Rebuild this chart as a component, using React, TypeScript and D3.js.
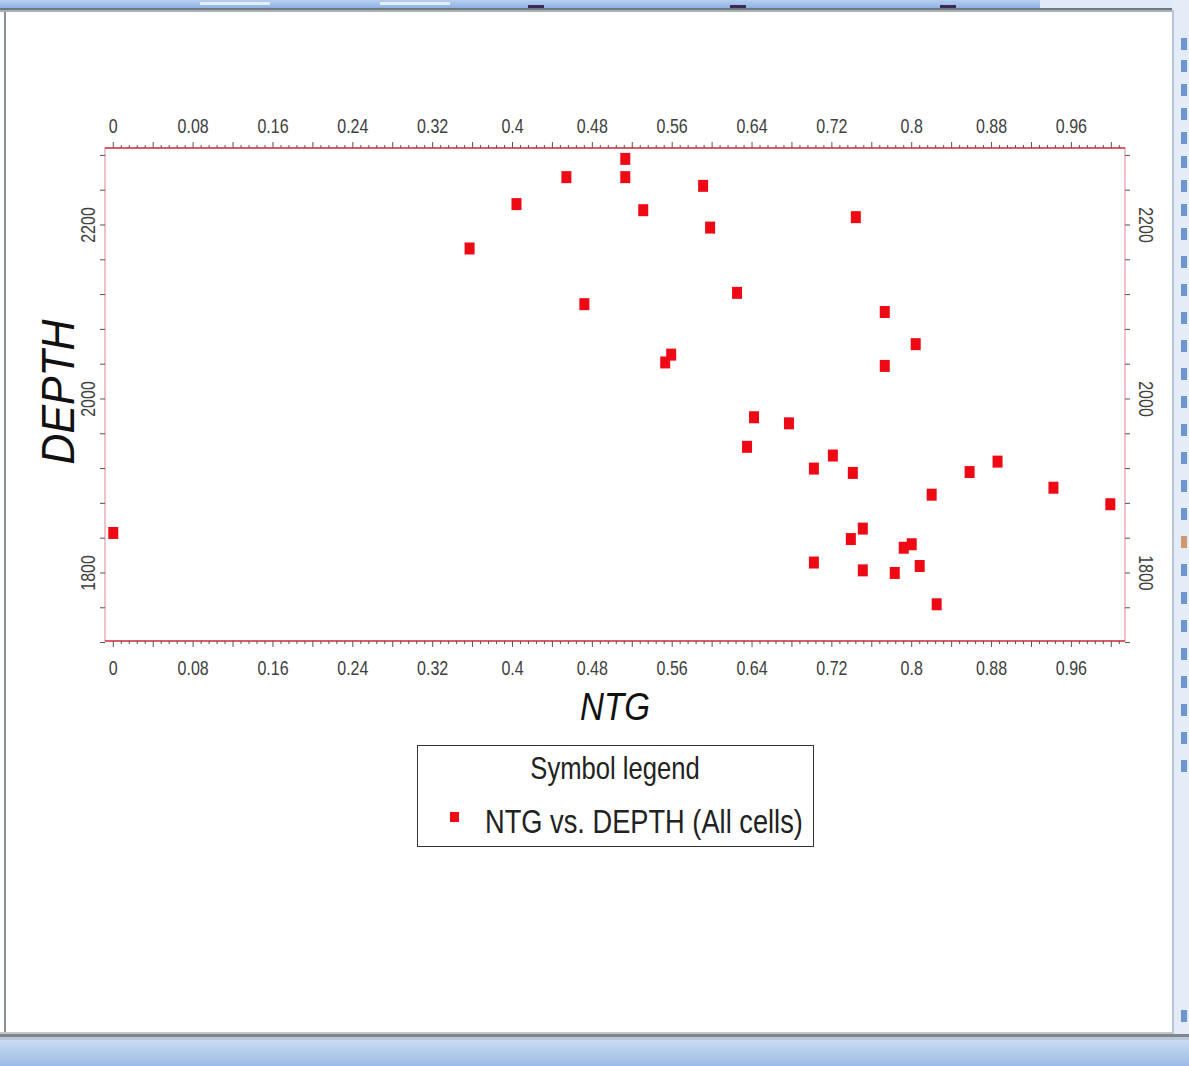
import React from "react";
import * as d3 from "d3";

// Data: NTG vs DEPTH (All cells)
const ntgValues = [0.0, 0.357, 0.404, 0.454, 0.472, 0.513, 0.513, 0.531, 0.553, 0.559, 0.591, 0.598, 0.625, 0.635, 0.642, 0.677, 0.702, 0.702, 0.721, 0.741, 0.744, 0.739, 0.751, 0.751, 0.773, 0.773, 0.783, 0.792, 0.8, 0.804, 0.808, 0.82, 0.825, 0.858, 0.886, 0.942, 0.999];
const depthValues = [1846, 2173, 2224, 2255, 2109, 2276, 2255, 2217, 2042, 2051, 2245, 2197, 2122, 1945, 1979, 1972, 1920, 1812, 1935, 1915, 2209, 1839, 1851, 1803, 2100, 2038, 1800, 1829, 1833, 2063, 1808, 1890, 1764, 1916, 1928, 1898, 1879];
const xTickLabels = ["0", "0.08", "0.16", "0.24", "0.32", "0.4", "0.48", "0.56", "0.64", "0.72", "0.8", "0.88", "0.96"];
const yTickLabels = ["1800", "2000", "2200"];
const xTitle = "NTG";
const yTitle = "DEPTH";
const legendTitle = "Symbol legend";
const legendLabel = "NTG vs. DEPTH (All cells)";

const W = 1189;
const H = 1066;
const frame = { left: 105, right: 1125, top: 148, bottom: 641 };

export default function App() {
  const x = d3.scaleLinear().domain([-0.0083, 1.0137]).range([frame.left, frame.right]);
  const y = d3.scaleLinear().domain([1721.8, 2288.5]).range([frame.bottom, frame.top]);

  const xMajor = d3.range(0, 1.0001, 0.04);
  const xMinor = d3.range(0, 1.012, 0.008).filter((v) => Math.abs(v / 0.04 - Math.round(v / 0.04)) > 1e-6);
  const yTicks = d3.range(1720, 2290, 40);

  const axisColor = "#d23a48";
  const tickColor = "#555";
  const labelColor = "#404040";
  const condensed = 0.8;

  const data = ntgValues.map((v, i) => ({ ntg: v, depth: depthValues[i] }));

  return (
    <svg width={W} height={H} style={{ position: "absolute", left: 0, top: 0, background: "#fff" }}>
      <defs>
        <linearGradient id="bottomBar" x1="0" y1="0" x2="0" y2="1">
          <stop offset="0" stopColor="#c9dcf3" />
          <stop offset="1" stopColor="#9dbbe6" />
        </linearGradient>
        <linearGradient id="topBar" x1="0" y1="0" x2="0" y2="1">
          <stop offset="0" stopColor="#b7cff0" />
          <stop offset="1" stopColor="#8fb1e3" />
        </linearGradient>
      </defs>
      {/* window chrome */}
      <rect x={0} y={0} width={1040} height={8} fill="url(#topBar)" />
      <rect x={1040} y={0} width={149} height={8} fill="#dfe9f7" />
      <rect x={200} y={2} width={70} height={3} fill="#e4eefb" />
      <rect x={380} y={2} width={70} height={3} fill="#e4eefb" />
      <rect x={528} y={5} width={16} height={3} fill="#3a2a55" />
      <rect x={730} y={5} width={16} height={3} fill="#3a2a55" />
      <rect x={940} y={5} width={16} height={3} fill="#3a2a55" />
      <rect x={0} y={8} width={1172} height={2} fill="#6f7780" />
      <rect x={0} y={10} width={1172} height={2} fill="#a9b0b8" />
      <rect x={4} y={12} width={2} height={1022} fill="#8a9098" />
      <rect x={1172} y={0} width={17} height={1040} fill="#e4ecf7" />
      <rect x={1172} y={10} width={2} height={1030} fill="#b8c4d4" />
      {[38, 60, 84, 108, 132, 156, 180, 204, 228, 256, 284, 312, 340, 368, 396, 424, 452, 480, 508, 536, 564, 592, 620, 648, 676, 704, 732, 760, 1010].map((yy, i) => (
        <rect key={i} x={1181} y={yy} width={6} height={12} fill={i === 19 ? "#c98a5a" : "#5a86c8"} opacity={0.85} />
      ))}
      <rect x={0} y={1032} width={1172} height={2} fill="#c8c8c0" />
      <rect x={0} y={1034} width={1189} height={3} fill="#7c8590" />
      <rect x={0} y={1037} width={1189} height={3} fill="#b9c6d6" />
      <rect x={0} y={1040} width={1189} height={26} fill="url(#bottomBar)" />

      {/* frame */}
      <rect x={frame.left} y={frame.top} width={frame.right - frame.left} height={frame.bottom - frame.top} fill="#fff" stroke="#e39aa2" strokeWidth={1.2} />
      <line x1={frame.left} x2={frame.right} y1={frame.top} y2={frame.top} stroke={axisColor} strokeWidth={1.5} />
      <line x1={frame.left} x2={frame.right} y1={frame.bottom} y2={frame.bottom} stroke={axisColor} strokeWidth={1.5} />

      {/* x ticks */}
      {xMajor.map((v, i) => (
        <g key={"xm" + i}>
          <line x1={x(v)} x2={x(v)} y1={frame.top} y2={frame.top - 6} stroke={tickColor} strokeWidth={1} />
          <line x1={x(v)} x2={x(v)} y1={frame.bottom} y2={frame.bottom + 6} stroke={tickColor} strokeWidth={1} />
        </g>
      ))}
      {xMinor.map((v, i) => (
        <g key={"xn" + i}>
          <line x1={x(v)} x2={x(v)} y1={frame.top} y2={frame.top - 3} stroke={tickColor} strokeWidth={1} />
          <line x1={x(v)} x2={x(v)} y1={frame.bottom} y2={frame.bottom + 3} stroke={tickColor} strokeWidth={1} />
        </g>
      ))}
      {xTickLabels.map((t) => (
        <g key={"xl" + t}>
          <text transform={`translate(${x(+t)},${133}) scale(${condensed},1)`} textAnchor="middle" fontFamily="Liberation Sans, Arial, sans-serif" fontSize={20} fill={labelColor}>{t}</text>
          <text transform={`translate(${x(+t)},${675}) scale(${condensed},1)`} textAnchor="middle" fontFamily="Liberation Sans, Arial, sans-serif" fontSize={20} fill={labelColor}>{t}</text>
        </g>
      ))}

      {/* y ticks */}
      {yTicks.map((v, i) => (
        <g key={"yt" + i}>
          <line x1={frame.left} x2={frame.left - 5} y1={y(v)} y2={y(v)} stroke={tickColor} strokeWidth={1} />
          <line x1={frame.right} x2={frame.right + 5} y1={y(v)} y2={y(v)} stroke={tickColor} strokeWidth={1} />
        </g>
      ))}
      {yTickLabels.map((t) => (
        <g key={"yl" + t}>
          <text transform={`translate(${95},${y(+t)}) rotate(-90) scale(${condensed},1)`} textAnchor="middle" fontFamily="Liberation Sans, Arial, sans-serif" fontSize={20} fill={labelColor}>{t}</text>
          <text transform={`translate(${1139},${y(+t)}) rotate(90) scale(${condensed},1)`} textAnchor="middle" fontFamily="Liberation Sans, Arial, sans-serif" fontSize={20} fill={labelColor}>{t}</text>
        </g>
      ))}

      {/* axis titles */}
      <text transform={`translate(615,720) scale(0.85,1)`} textAnchor="middle" fontFamily="Liberation Sans, Arial, sans-serif" fontStyle="italic" fontSize={39} fill="#111">{xTitle}</text>
      <text transform={`translate(74,392) rotate(-90) scale(0.93,1)`} textAnchor="middle" fontFamily="Liberation Sans, Arial, sans-serif" fontStyle="italic" fontSize={46} fill="#111">{yTitle}</text>

      {/* points */}
      {data.map((d, i) => (
        <rect key={"p" + i} x={x(d.ntg) - 5} y={y(d.depth) - 6} width={10} height={12} fill="#ee0a14" />
      ))}

      {/* legend */}
      <rect x={417.5} y={745.5} width={396} height={101} fill="#fff" stroke="#333" strokeWidth={1} />
      <text transform={`translate(615,779) scale(0.8,1)`} textAnchor="middle" fontFamily="Liberation Sans, Arial, sans-serif" fontSize={32} fill="#222">{legendTitle}</text>
      <rect x={450} y={812} width={9} height={10} fill="#ee0a14" />
      <text transform={`translate(485,833) scale(0.826,1)`} textAnchor="start" fontFamily="Liberation Sans, Arial, sans-serif" fontSize={33} fill="#222">{legendLabel}</text>
    </svg>
  );
}
